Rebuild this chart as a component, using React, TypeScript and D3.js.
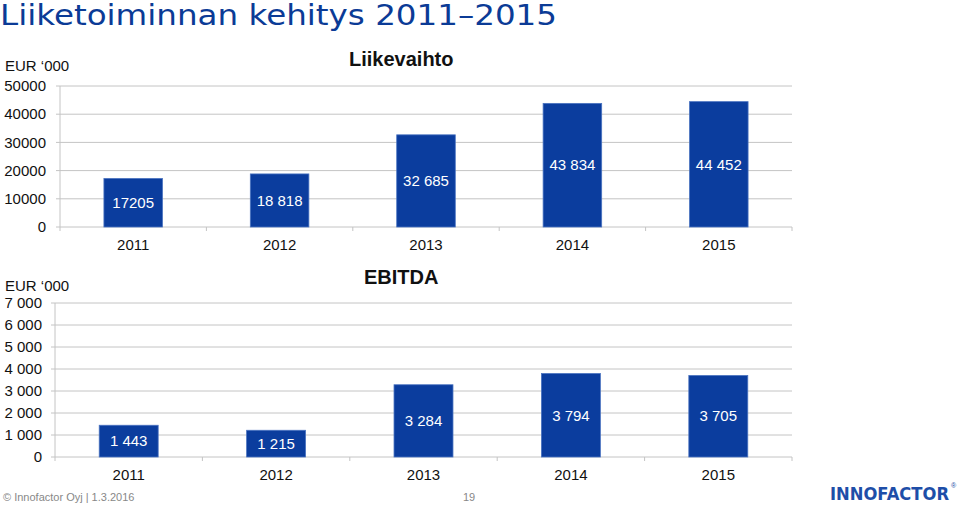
import React from "react";
import * as d3 from "d3";

const years = ["2011", "2012", "2013", "2014", "2015"];
const revenue = [17205, 18818, 32685, 43834, 44452];
const revenueLabels = ["17205", "18 818", "32 685", "43 834", "44 452"];
const revenueTicks = [0, 10000, 20000, 30000, 40000, 50000];
const revenueTickLabels = ["0", "10000", "20000", "30000", "40000", "50000"];
const ebitda = [1443, 1215, 3284, 3794, 3705];
const ebitdaLabels = ["1 443", "1 215", "3 284", "3 794", "3 705"];
const ebitdaTicks = [0, 1000, 2000, 3000, 4000, 5000, 6000, 7000];
const ebitdaTickLabels = ["0", "1 000", "2 000", "3 000", "4 000", "5 000", "6 000", "7 000"];

const BLUE = "#0b3d9e";
const GRID = "#c4c4c4";
const FONT = "'Liberation Sans', Arial, sans-serif";

type PanelProps = {
  values: number[];
  labels: string[];
  ticks: number[];
  tickLabels: string[];
  max: number;
  x0: number;
  x1: number;
  yTop: number;
  yBase: number;
  tickRight: number;
  title: string;
  titleX: number;
  titleY: number;
  unitY: number;
};

function Panel(p: PanelProps) {
  const x = d3.scaleBand<string>().domain(years).range([p.x0, p.x1]).padding(0);
  const y = d3.scaleLinear().domain([0, p.max]).range([p.yBase, p.yTop]);
  const bw = x.bandwidth() * 0.4;
  const bounds = [p.x0, ...years.map((yr) => (x(yr) as number) + x.bandwidth())];
  return (
    <g>
      <text x={5} y={p.unitY} fontSize={15} fontFamily={FONT} fill="#111">
        EUR ‘000
      </text>
      <text x={p.titleX} y={p.titleY} fontSize={20} fontWeight="bold" fontFamily={FONT} fill="#111">
        {p.title}
      </text>
      {p.ticks.map((t, i) => (
        <g key={t}>
          <line x1={p.x0 - 4} x2={p.x1} y1={y(t)} y2={y(t)} stroke={GRID} strokeWidth={1} />
          <text x={p.tickRight} y={y(t)} dy="0.35em" textAnchor="end" fontSize={15} fontFamily={FONT} fill="#111">
            {p.tickLabels[i]}
          </text>
        </g>
      ))}
      <line x1={p.x0} x2={p.x0} y1={p.yTop} y2={p.yBase} stroke={GRID} />
      {bounds.map((b, i) => (
        <line key={i} x1={b} x2={b} y1={p.yBase} y2={p.yBase + 4} stroke={GRID} />
      ))}
      {years.map((yr, i) => {
        const cx = (x(yr) as number) + x.bandwidth() / 2;
        const top = y(p.values[i]);
        return (
          <g key={yr}>
            <rect x={cx - bw / 2} y={top} width={bw} height={p.yBase - top} fill={BLUE} stroke="#4a73c0" strokeWidth={0.8} />
            <text x={cx} y={(top + p.yBase) / 2} dy="0.35em" textAnchor="middle" fontSize={15} fontFamily={FONT} fill="#fff">
              {p.labels[i]}
            </text>
            <text x={cx} y={p.yBase + 18} dy="0.35em" textAnchor="middle" fontSize={15} fontFamily={FONT} fill="#111">
              {yr}
            </text>
          </g>
        );
      })}
    </g>
  );
}

export default function App() {
  return (
    <svg width={960} height={505} style={{ position: "absolute", left: 0, top: 0, background: "#fff" }}>
      <rect width={960} height={505} fill="#fff" />
      <text x={0} y={25} fontSize={28} fontFamily="'DejaVu Sans', sans-serif" fill="#0b3b96" textLength={557} lengthAdjust="spacingAndGlyphs">
        Liiketoiminnan kehitys 2011–2015
      </text>
      <Panel
        values={revenue}
        labels={revenueLabels}
        ticks={revenueTicks}
        tickLabels={revenueTickLabels}
        max={50000}
        x0={60}
        x1={792}
        yTop={86}
        yBase={227}
        tickRight={46}
        title="Liikevaihto"
        titleX={349}
        titleY={66}
        unitY={71}
      />
      <Panel
        values={ebitda}
        labels={ebitdaLabels}
        ticks={ebitdaTicks}
        tickLabels={ebitdaTickLabels}
        max={7000}
        x0={55}
        x1={792}
        yTop={303}
        yBase={457}
        tickRight={42}
        title="EBITDA"
        titleX={364}
        titleY={284}
        unitY={291}
      />
      <text x={3} y={501} fontSize={11} fontFamily={FONT} fill="#888">
        © Innofactor Oyj | 1.3.2016
      </text>
      <text x={463} y={501} fontSize={11} fontFamily={FONT} fill="#888">
        19
      </text>
      <text x={830} y={500} fontSize={18} fontWeight="bold" fontFamily="'DejaVu Sans', sans-serif" fill="#1e4ea8" textLength={119} lengthAdjust="spacingAndGlyphs">
        INNOFACTOR
      </text>
      <text x={951} y={488} fontSize={7} fontFamily={FONT} fill="#1e4ea8">
        ®
      </text>
    </svg>
  );
}
